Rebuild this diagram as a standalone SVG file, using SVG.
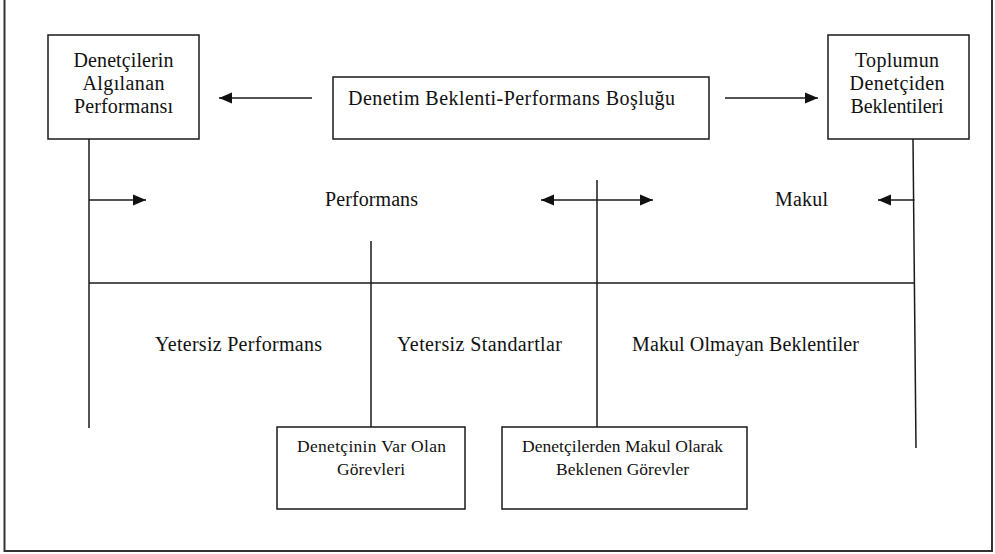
<svg xmlns="http://www.w3.org/2000/svg" width="995" height="554" viewBox="0 0 995 554">
<style>
  .ln{stroke:#1a1a1a;stroke-width:1.5;fill:none}
  .box{stroke:#1a1a1a;stroke-width:1.5;fill:#fff}
  .frame{stroke:#333;stroke-width:2;fill:none}
  text{font-family:"Liberation Serif","Times New Roman",serif;font-size:20px;fill:#111;text-anchor:middle}
  .sm{font-size:17.5px}
</style>
<defs>
  <marker id="ah" markerUnits="userSpaceOnUse" markerWidth="14" markerHeight="12" refX="13" refY="6" orient="auto">
    <path d="M0,0.5 L13,6 L0,11.5 z" fill="#111"/>
  </marker>
  <marker id="ahs" markerUnits="userSpaceOnUse" markerWidth="14" markerHeight="12" refX="0" refY="6" orient="auto">
    <path d="M13,0.5 L0,6 L13,11.5 z" fill="#111"/>
  </marker>
</defs>
<rect width="995" height="554" fill="#fff"/>
<path class="frame" d="M4.5,0 V551 H992 V0"/>

<g id="connectors">
  <line class="ln" x1="312" y1="98" x2="219" y2="98" marker-end="url(#ah)"/>
  <line class="ln" x1="725" y1="98" x2="818" y2="98" marker-end="url(#ah)"/>
  <line class="ln" x1="89" y1="139" x2="89" y2="428"/>
  <line class="ln" x1="913" y1="139" x2="916" y2="448"/>
  <line class="ln" x1="89" y1="200" x2="146" y2="200" marker-end="url(#ah)"/>
  <line class="ln" x1="541" y1="200" x2="653" y2="200" marker-start="url(#ahs)" marker-end="url(#ah)"/>
  <line class="ln" x1="914.5" y1="200" x2="878" y2="200" marker-end="url(#ah)"/>
  <line class="ln" x1="89" y1="283" x2="915" y2="283"/>
  <line class="ln" x1="371" y1="241" x2="371" y2="427"/>
  <line class="ln" x1="597" y1="180" x2="597" y2="427"/>
</g>

<g id="node-algilanan">
  <rect class="box" x="48" y="35" width="151" height="104"/>
  <text x="123.5" y="67" textLength="100">Denetçilerin</text>
  <text x="123.5" y="90" textLength="82">Algılanan</text>
  <text x="123.5" y="113" textLength="99">Performansı</text>
</g>

<g id="node-bosluk">
  <rect class="box" x="333" y="77" width="376" height="62"/>
  <text x="511.5" y="105" textLength="327">Denetim Beklenti-Performans  Boşluğu</text>
</g>

<g id="node-beklentiler">
  <rect class="box" x="828" y="35" width="141" height="104"/>
  <text x="897" y="67" textLength="84">Toplumun</text>
  <text x="897" y="90" textLength="95">Denetçiden</text>
  <text x="897" y="113" textLength="93">Beklentileri</text>
</g>

<g id="labels">
  <text x="371.5" y="206" textLength="93">Performans</text>
  <text x="801.5" y="206" textLength="53">Makul</text>
  <text x="238.5" y="351" textLength="167">Yetersiz  Performans</text>
  <text x="479.5" y="351" textLength="165">Yetersiz  Standartlar</text>
  <text x="745.5" y="351" textLength="227">Makul Olmayan Beklentiler</text>
</g>

<g id="node-var-olan">
  <rect class="box" x="277" y="427" width="188" height="82"/>
  <text class="sm" x="371.5" y="452" textLength="149">Denetçinin Var Olan</text>
  <text class="sm" x="371" y="475" textLength="68">Görevleri</text>
</g>

<g id="node-makul-gorevler">
  <rect class="box" x="502" y="427" width="245" height="82"/>
  <text class="sm" x="622.5" y="452" textLength="201">Denetçilerden Makul Olarak</text>
  <text class="sm" x="622.5" y="475" textLength="133">Beklenen Görevler</text>
</g>
</svg>
